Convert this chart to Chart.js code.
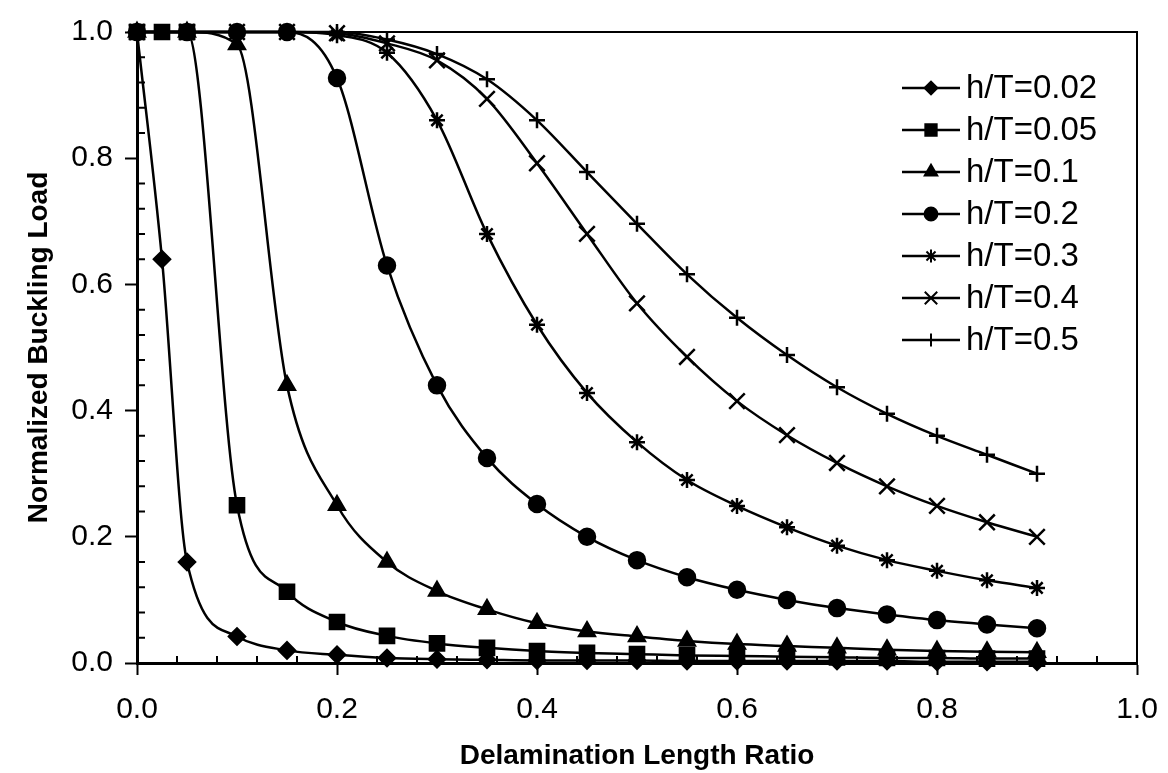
<!DOCTYPE html>
<html>
<head>
<meta charset="utf-8">
<title>Normalized Buckling Load vs Delamination Length Ratio</title>
<script src="https://cdn.jsdelivr.net/npm/chart.js@4.4.0/dist/chart.umd.min.js"></script>
<style>
  html, body { margin: 0; padding: 0; background: #fff; }
  #wrap { width: 1168px; height: 773px; }
</style>
</head>
<body>
<div id="wrap"><canvas id="chart" width="1168" height="773"></canvas></div>
<script>
// x positions (delamination length ratio)
const xFine = [0, 0.025, 0.05, 0.1, 0.15, 0.2, 0.25, 0.3, 0.35, 0.4, 0.45, 0.5, 0.55, 0.6, 0.65, 0.7, 0.75, 0.8, 0.85, 0.9];
const xCoarse = [0, 0.05, 0.1, 0.15, 0.2, 0.25, 0.3, 0.35, 0.4, 0.45, 0.5, 0.55, 0.6, 0.65, 0.7, 0.75, 0.8, 0.85, 0.9];

// normalized buckling load per h/T
const ht002 = [1.0, 0.64, 0.16, 0.042, 0.02, 0.013, 0.008, 0.006, 0.005, 0.004, 0.004, 0.004, 0.003, 0.003, 0.003, 0.003, 0.003, 0.002, 0.002, 0.002];
const ht005 = [1.0, 1.0, 1.0, 0.25, 0.113, 0.065, 0.043, 0.031, 0.024, 0.019, 0.016, 0.014, 0.012, 0.011, 0.010, 0.009, 0.008, 0.008, 0.007, 0.007];
const ht01 = [1.0, 1.0, 0.98, 0.44, 0.25, 0.16, 0.114, 0.085, 0.063, 0.05, 0.042, 0.035, 0.03, 0.027, 0.024, 0.021, 0.019, 0.018, 0.017];
const ht02 = [1.0, 1.0, 1.0, 1.0, 0.927, 0.63, 0.44, 0.325, 0.252, 0.2, 0.163, 0.136, 0.116, 0.1, 0.087, 0.077, 0.068, 0.061, 0.055];
const ht03 = [1.0, 1.0, 1.0, 1.0, 0.995, 0.967, 0.86, 0.68, 0.536, 0.428, 0.35, 0.29, 0.249, 0.215, 0.186, 0.163, 0.146, 0.131, 0.119];
const ht04 = [1.0, 1.0, 1.0, 1.0, 0.998, 0.982, 0.955, 0.894, 0.792, 0.68, 0.57, 0.485, 0.415, 0.361, 0.317, 0.28, 0.249, 0.223, 0.2];
const ht05 = [1.0, 1.0, 1.0, 1.0, 1.0, 0.988, 0.965, 0.925, 0.86, 0.778, 0.696, 0.616, 0.547, 0.488, 0.437, 0.395, 0.36, 0.33, 0.3];

const seriesLabels = ['h/T=0.02', 'h/T=0.05', 'h/T=0.1', 'h/T=0.2', 'h/T=0.3', 'h/T=0.4', 'h/T=0.5'];
const xTickLabels = ['0.0', '0.2', '0.4', '0.6', '0.8', '1.0'];
const yTickLabels = ['0.0', '0.2', '0.4', '0.6', '0.8', '1.0'];

const FONT = "'Liberation Sans', Arial, Helvetica, sans-serif";

// marker per series (Excel-ish: diamond, square, triangle, circle, asterisk, x, plus)
const markers = [
  { style: 'rectRot', radius: 8 },
  { style: 'rect', radius: 10 },
  { style: 'triangle', radius: 9 },
  { style: 'circle', radius: 8 },
  { style: 'star', radius: 8 },
  { style: 'crossRot', radius: 11 },
  { style: 'cross', radius: 8 },
];

function pts(xs, ys) {
  return xs.map((x, i) => ({ x, y: ys[i] }));
}

const seriesData = [
  pts(xFine, ht002),
  pts(xFine, ht005),
  pts(xCoarse, ht01),
  pts(xCoarse, ht02),
  pts(xCoarse, ht03),
  pts(xCoarse, ht04),
  pts(xCoarse, ht05),
];

const datasets = seriesData.map((data, i) => ({
  label: seriesLabels[i],
  data,
  borderColor: '#000',
  backgroundColor: '#000',
  borderWidth: 2.5,
  pointStyle: markers[i].style,
  pointRadius: markers[i].radius,
  pointBackgroundColor: '#000',
  pointBorderColor: '#000',
  pointBorderWidth: 2.5,
  cubicInterpolationMode: 'monotone',
  fill: false,
  clip: false,
}));

// frame, inner minor ticks and the boxed-in legend
const decorations = {
  id: 'decorations',
  afterDraw(chart) {
    const { ctx, chartArea: a, scales } = chart;
    ctx.save();
    ctx.strokeStyle = '#000';
    // top and right frame
    ctx.lineWidth = 2;
    ctx.beginPath();
    ctx.moveTo(a.left, a.top);
    ctx.lineTo(a.right, a.top);
    ctx.lineTo(a.right, a.bottom);
    ctx.stroke();

    // minor ticks every 0.04, pointing inward
    ctx.lineWidth = 2;
    ctx.beginPath();
    for (let i = 1; i < 25; i++) {
      if (i % 5 === 0) continue;
      const v = i * 0.04;
      const px = scales.x.getPixelForValue(v);
      ctx.moveTo(px, a.bottom);
      ctx.lineTo(px, a.bottom - 7);
      const py = scales.y.getPixelForValue(v);
      ctx.moveTo(a.left, py);
      ctx.lineTo(a.left + 8, py);
    }
    ctx.stroke();

    // legend
    const lx0 = a.right - 235, lx1 = a.right - 177, mx = a.right - 206, tx = a.right - 171;
    const ly0 = a.top + 56, step = 42;
    ctx.font = '33px ' + FONT;
    ctx.fillStyle = '#000';
    ctx.textBaseline = 'middle';
    ctx.textAlign = 'left';
    chart.data.datasets.forEach((ds, i) => {
      const y = ly0 + i * step;
      ctx.lineWidth = 2.5;
      ctx.beginPath();
      ctx.moveTo(lx0, y);
      ctx.lineTo(lx1, y);
      ctx.stroke();
      ctx.lineWidth = 2;
      Chart.helpers.drawPoint(ctx, {
        pointStyle: ds.pointStyle,
        radius: ds.pointRadius * 0.8,
        rotation: 0,
        borderWidth: 2,
      }, mx, y);
      ctx.fillText(ds.label, tx, y + 1);
    });
    ctx.restore();
  },
};

const tickFont = { family: FONT, size: 30 };
const xTickFont = { family: FONT, size: 30, lineHeight: 1.75 };
const titleFont = { family: FONT, size: 28, weight: 'bold' };

new Chart(document.getElementById('chart'), {
  type: 'line',
  data: { datasets },
  options: {
    responsive: false,
    animation: false,
    layout: { padding: { top: 32, right: 31, left: 0, bottom: 0 } },
    scales: {
      x: {
        type: 'linear',
        min: 0,
        max: 1,
        afterFit: (s) => { s.height = 110; },
        ticks: {
          stepSize: 0.2,
          font: xTickFont,
          color: '#000',
          padding: 8,
          maxRotation: 0,
          callback: (v) => xTickLabels[Math.round(v / 0.2)],
        },
        grid: { drawOnChartArea: false, drawTicks: true, tickLength: 12, tickWidth: 2, tickColor: '#000' },
        border: { display: true, color: '#000', width: 3 },
        title: { display: true, text: 'Delamination Length Ratio', font: titleFont, color: '#000', padding: { top: 0, bottom: 0 } },
      },
      y: {
        type: 'linear',
        min: 0,
        max: 1,
        afterFit: (s) => { s.width = 137; },
        ticks: {
          stepSize: 0.2,
          font: tickFont,
          color: '#000',
          padding: 12,
          callback: (v) => yTickLabels[Math.round(v / 0.2)],
        },
        grid: { drawOnChartArea: false, drawTicks: true, tickLength: 12, tickWidth: 2, tickColor: '#000' },
        border: { display: true, color: '#000', width: 3 },
        title: { display: true, text: 'Normalized Buckling Load', font: titleFont, color: '#000', padding: { top: 22, bottom: 0 } },
      },
    },
    plugins: {
      legend: { display: false },
      tooltip: { enabled: false },
    },
  },
  plugins: [decorations],
});
</script>
</body>
</html>
